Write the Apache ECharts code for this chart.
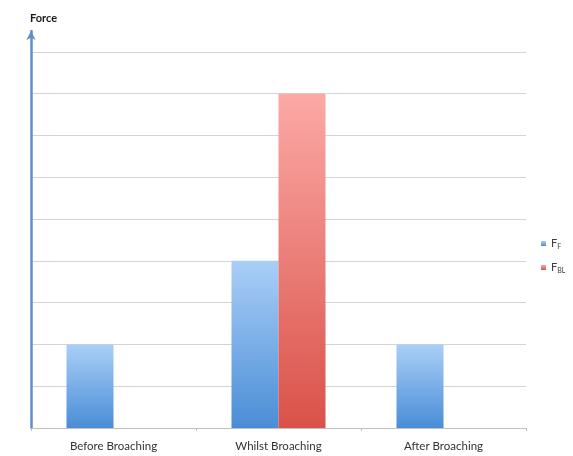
<!DOCTYPE html>
<html>
<head>
<meta charset="utf-8">
<script src="https://cdn.jsdelivr.net/npm/echarts@6/dist/echarts.min.js"></script>
<style>
  html, body { margin: 0; padding: 0; background: #fff; }
  #chart { width: 573px; height: 456px; }
</style>
</head>
<body>
<div id="chart"></div>
<script>
// Broaching force stages
const categories = ['Before Broaching', 'Whilst Broaching', 'After Broaching'];
const forceF = [2, 4, 2];        // F_F
const forceBL = [null, 8, null]; // F_BL
const yTicks = { min: 0, max: 9.5, interval: 1 };

const chart = echarts.init(document.getElementById('chart'));
const font = 'Lato, "Open Sans", sans-serif';

function vGrad(top, bottom) {
  return new echarts.graphic.LinearGradient(0, 0, 0, 1, [
    { offset: 0, color: top },
    { offset: 1, color: bottom }
  ]);
}

chart.setOption({
  backgroundColor: '#ffffff',
  animation: false,
  title: {
    text: 'Force',
    left: 25,
    top: 8,
    textStyle: { fontFamily: font, fontSize: 11, fontWeight: 'bold', color: '#1a1a1a' }
  },
  legend: {
    orient: 'vertical',
    left: 536,
    top: 233,
    itemWidth: 5,
    itemHeight: 5,
    itemGap: 12,
    icon: 'rect',
    data: ['FF', 'FBL'],
    formatter: function (name) {
      return name === 'FF' ? 'F{s|F}' : 'F{s|BL}';
    },
    textStyle: {
      fontFamily: font,
      fontSize: 11,
      color: '#404040',
      rich: { s: { fontFamily: font, fontSize: 7, color: '#404040', verticalAlign: 'bottom', padding: [6, 0, 0, 0] } }
    }
  },
  grid: { left: 31, right: 47, top: 31, bottom: 28, containLabel: false },
  xAxis: {
    type: 'category',
    data: categories,
    axisLine: { lineStyle: { color: '#bfbfbf', width: 1 } },
    axisTick: { show: true, length: 3, lineStyle: { color: '#bfbfbf' } },
    axisLabel: { fontFamily: font, fontSize: 11.5, color: '#333333', margin: 12 }
  },
  yAxis: {
    type: 'value',
    min: yTicks.min,
    max: yTicks.max,
    interval: yTicks.interval,
    axisLine: {
      show: true,
      symbol: ['none', 'arrow'],
      symbolSize: [7, 9],
      lineStyle: { color: '#5f8fc9', width: 2.5 }
    },
    axisTick: { show: false },
    axisLabel: { show: false },
    splitLine: { show: true, showMaxLine: false, lineStyle: { color: '#d4d4d4', width: 1 } }
  },
  series: [
    {
      name: 'FF',
      type: 'bar',
      data: forceF,
      barWidth: 47,
      barGap: '0%',
      itemStyle: { color: vGrad('#aacff7', '#4a8dd6') }
    },
    {
      name: 'FBL',
      type: 'bar',
      data: forceBL,
      barWidth: 47,
      barGap: '0%',
      itemStyle: { color: vGrad('#fca9a6', '#d95249') }
    }
  ]
});
</script>
</body>
</html>
